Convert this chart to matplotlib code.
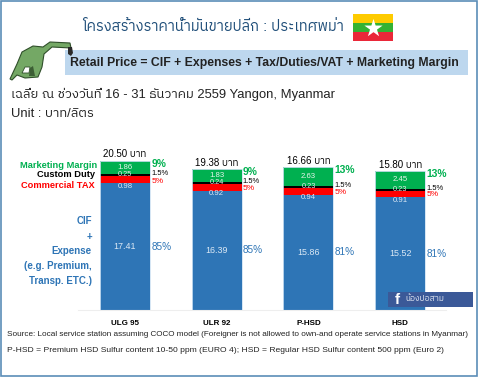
import matplotlib
matplotlib.use("Agg")
import matplotlib.pyplot as plt
import numpy as np
from matplotlib.patches import Polygon, Rectangle

# values (baht per litre)
fuels = ["ULG 95", "ULR 92", "P-HSD", "HSD"]
cif = [17.41, 16.39, 15.86, 15.52]
tax = [0.98, 0.92, 0.94, 0.91]
duty = [0.25, 0.24, 0.23, 0.23]
margin = [1.86, 1.83, 2.63, 2.45]
totals = ["20.50", "19.38", "16.66", "15.80"]
cif_pct = ["85%", "85%", "81%", "81%"]
tax_pct = ["5%", "5%", "5%", "5%"]
duty_pct = ["1.5%", "1.5%", "1.5%", "1.5%"]
margin_pct = ["9%", "9%", "13%", "13%"]

BLUE = "#2e75b6"
GREEN = "#00b050"
RED = "#ff0000"
DARK = "#222222"
plt.rcParams["font.family"] = ["Liberation Sans", "IBM Plex Sans Thai"]

W, H = 480, 377
fig = plt.figure(figsize=(W / 100, H / 100), dpi=100, facecolor="white")

# bar axes: baseline at y=310, 7.27 px per baht
ax = fig.add_axes([78 / W, (H - 310) / H, 368 / W, 180 / H])
ax.set_xlim(-0.513, 3.5)
ax.set_ylim(0, 180 / 7.27)

# pixel overlay for everything that is not the bars
bg = fig.add_axes([0, 0, 1, 1], zorder=3)
bg.set_xlim(0, W)
bg.set_ylim(H, 0)
bg.axis("off")

x = np.arange(len(fuels))
bottom = np.zeros(len(fuels))
for vals, col in [(cif, BLUE), (tax, RED), (duty, "black"), (margin, GREEN)]:
    ax.bar(x, vals, 0.545, bottom=bottom, color=col, linewidth=0)
    bottom = bottom + np.array(vals)
ax.bar(x, bottom, 0.545, fill=False, edgecolor="#cfe2f3", linewidth=0.6)

for i in x:
    b0 = cif[i]
    b1 = b0 + tax[i]
    b2 = b1 + duty[i]
    top = b2 + margin[i]
    ax.text(i, b0 / 2, f"{cif[i]:.2f}", color="#dce9f5", fontsize=6.4, ha="center", va="center")
    ax.text(i, b0 - 0.4, f"{tax[i]:.2f}", color="#dce9f5", fontsize=5.6, ha="center", va="center")
    ax.text(i, b2 - 0.05, f"{duty[i]:.2f}", color="#e8e8e8", fontsize=5.3, ha="center", va="center")
    ax.text(i, b2 + margin[i] / 2, f"{margin[i]:.2f}", color="#e8f5ec", fontsize=5.6, ha="center", va="center")
    ax.text(i, top + 0.9, totals[i] + " บาท", color="black", fontsize=7, ha="center", va="center")
    # share labels sit just right of the bar
    rx = i + 0.285
    ax.text(rx, b0 / 2, cif_pct[i], color=BLUE, fontsize=7.2, va="center")
    ax.text(rx, b0 + 0.3, tax_pct[i], color=RED, fontsize=6, va="center")
    ax.text(rx, b2 + 0.1, duty_pct[i], color="black", fontsize=5.4, va="center")
    ax.text(rx, top - 0.4, margin_pct[i], color=GREEN, fontsize=7.4, fontweight="bold", va="center")

ax.set_xticks(x, fuels, fontsize=5.8, fontweight="bold")
ax.set_yticks([])
ax.tick_params(axis="x", length=0, pad=7.5)
for s in ["top", "left", "right"]:
    ax.spines[s].set_visible(False)
ax.spines["bottom"].set_color("#eeeeee")

# frame
bg.add_patch(Rectangle((0.5, 0.5), 476, 375, fill=False, ec="#5b8db8", lw=1.2))

# title, flag
bg.text(213, 27, "โครงสร้างราคาน้ำมันขายปลีก : ประเทศพม่า", color="#1f4e79", fontsize=10.5, ha="center", va="center")
bg.add_patch(Rectangle((353, 14), 40, 9, color="#fecb00", lw=0))
bg.add_patch(Rectangle((353, 23), 40, 9, color="#34b233", lw=0))
bg.add_patch(Rectangle((353, 32), 40, 9, color="#ea2839", lw=0))
bg.scatter([373], [28], marker="*", s=190, color="white", linewidths=0, zorder=3)

# formula banner
bg.add_patch(Rectangle((65, 50), 403, 25, color="#bdd7ee", lw=0))
bg.text(70, 63, "Retail Price = CIF + Expenses + Tax/Duties/VAT + Marketing Margin",
        color=DARK, fontsize=8.85, fontweight="bold", va="center")

# fuel nozzle icon
bg.add_patch(Polygon([(10, 79), (17, 64), (22, 52), (33, 46), (43, 47), (50, 42), (70, 43), (71, 48),
                      (52, 47), (44, 54), (42, 67), (38, 77), (25, 78), (17, 75), (12, 80)],
                     closed=True, fc="#74a865", ec="#2f4f2a", lw=0.8, zorder=3))
bg.add_patch(Polygon([(22, 73), (25, 67), (30, 67), (29, 73)], closed=True,
                     fc="white", ec="#2f4f2a", lw=0.6, zorder=4))
bg.add_patch(Polygon([(29, 76), (30, 68), (33, 66), (35, 76)], closed=True,
                     fc="#3c5e34", lw=0, zorder=5))
bg.add_patch(Polygon([(68, 47), (72, 47), (73, 53), (71, 56), (68, 54)], closed=True,
                     fc="#2a2a2a", lw=0, zorder=4))

bg.text(11, 94, "เฉลี่ย ณ ช่วงวันที่ 16 - 31 ธันวาคม 2559 Yangon, Myanmar", color=DARK, fontsize=9.4, va="center")
bg.text(11, 114, "Unit : บาท/ลิตร", color=DARK, fontsize=9.4, va="center")

# left hand legend
bg.text(97, 165, "Marketing Margin", color=GREEN, fontsize=6.7, fontweight="bold", ha="right", va="center")
bg.text(95, 174.7, "Custom Duty", color="black", fontsize=6.7, fontweight="bold", ha="right", va="center")
bg.text(95, 186, "Commercial TAX", color=RED, fontsize=6.7, fontweight="bold", ha="right", va="center")
for y, txt in [(221, "CIF"), (236.7, "+"), (251, "Expense"), (266, "(e.g. Premium,"), (280.7, "Transp. ETC.)")]:
    bg.text(92, y, txt, color=BLUE, fontsize=7, fontweight="bold", ha="right", va="center")

# facebook badge
bg.add_patch(Rectangle((388, 292), 85, 15, color="#3b5998", lw=0, zorder=5))
bg.text(397, 299.5, "f", color="white", fontsize=11, fontweight="bold", ha="center", va="center", zorder=6)
bg.text(425, 299.5, "น้องปอสาม", color="#e8ecf5", fontsize=6, ha="center", va="center", zorder=6)

# footnotes
bg.text(7, 335, "Source: Local service station assuming COCO model (Foreigner is not allowed to own-and operate service stations in Myanmar)",
        color=DARK, fontsize=5.9, va="center")
bg.text(7, 351, "P-HSD = Premium HSD Sulfur content 10-50 ppm (EURO 4); HSD = Regular HSD Sulfur content 500 ppm (Euro 2)",
        color=DARK, fontsize=6.1, va="center")

fig.savefig("out.png", dpi=100)
